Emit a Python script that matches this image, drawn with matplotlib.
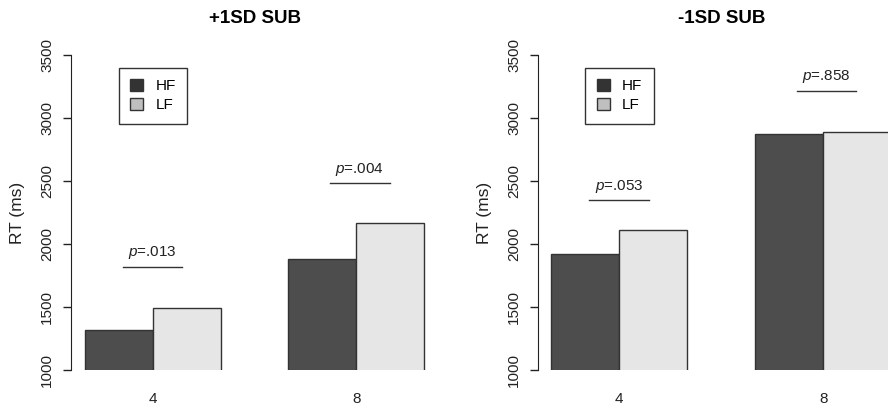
import matplotlib
matplotlib.use('Agg')
import matplotlib.pyplot as plt
from matplotlib.patches import Patch

plt.rcParams['font.family'] = ['Liberation Sans', 'DejaVu Sans']
plt.rcParams['mathtext.fontset'] = 'custom'
plt.rcParams['mathtext.it'] = 'Liberation Sans:italic'
plt.rcParams['mathtext.rm'] = 'Liberation Sans'

# data
set_sizes = ['4', '8']
titles = ['+1SD SUB', '-1SD SUB']
hf_rt = [[1320, 1881], [1921, 2873]]
lf_rt = [[1490, 2169], [2111, 2891]]
p_labels = [['.013', '.004'], ['.053', '.858']]
p_line_y = [[1817, 2481], [2347, 3214]]
yticks = [1000, 1500, 2000, 2500, 3000, 3500]

HF_COL = '#4d4d4d'
LF_COL = '#e6e6e6'
EDGE = '#333333'

W, H = 888, 408
fig = plt.figure(figsize=(W / 100, H / 100), dpi=100)

# axes boxes in pixels: left, top, width, height
boxes = [(71, 55, 367, 315), (537.7, 55, 367, 315)]


def draw_panel(ax, k):
    hf_x = [1.5, 4.5]
    lf_x = [2.5, 5.5]
    ax.bar(hf_x, hf_rt[k], width=1, bottom=0, color=HF_COL, edgecolor=EDGE, linewidth=1)
    ax.bar(lf_x, lf_rt[k], width=1, bottom=0, color=LF_COL, edgecolor=EDGE, linewidth=1)
    ax.set_xlim(0.8, 6.2)
    ax.set_ylim(1000, 3500)

    for g, cx in enumerate([2.0, 5.05]):
        y = p_line_y[k][g]
        ax.plot([cx - 0.44, cx + 0.44], [y, y], color=EDGE, linewidth=1, clip_on=False)
        ax.text(cx, y + 45, r'$\mathit{p}$=' + p_labels[k][g], ha='center', va='bottom',
                fontsize=11, color='#222222')

    for side in ['top', 'right', 'bottom']:
        ax.spines[side].set_visible(False)
    ax.spines['left'].set_color('#222222')
    ax.set_yticks(yticks)
    ax.set_yticklabels([str(t) for t in yticks], rotation=90, va='center', fontsize=11)
    ax.tick_params(axis='y', length=6, width=1, pad=6, colors='#222222')
    ax.set_xticks([2, 5])
    ax.set_xticklabels(set_sizes, fontsize=11)
    ax.tick_params(axis='x', length=0, pad=16, colors='#222222')
    ax.set_ylabel('RT (ms)', fontsize=12.5, color='#222222')
    ax.yaxis.set_label_coords(-0.125, 0.5)
    ax.set_title(titles[k], fontsize=13.5, fontweight='bold', pad=23)

    handles = [Patch(facecolor='#333333', edgecolor=EDGE, label='HF'),
               Patch(facecolor='#bfbfbf', edgecolor=EDGE, label='LF')]
    leg = ax.legend(handles=handles, loc='upper left', bbox_to_anchor=(0.13, 0.96),
                    fontsize=11, frameon=True, fancybox=False, framealpha=1,
                    edgecolor=EDGE, handlelength=0.85, handleheight=0.85,
                    handletextpad=0.8, borderpad=0.75, labelspacing=0.3,
                    borderaxespad=0)
    leg.get_frame().set_linewidth(1)


for k, (l, t, w, h) in enumerate(boxes):
    ax = fig.add_axes([l / W, (H - t - h) / H, w / W, h / H])
    draw_panel(ax, k)

fig.savefig('out.png', dpi=100)
